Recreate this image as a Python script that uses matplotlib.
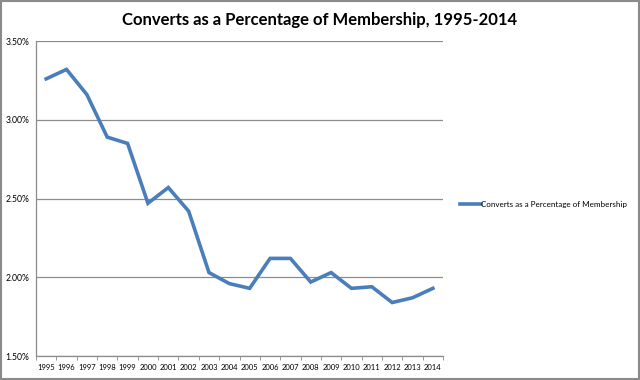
import matplotlib
matplotlib.use("Agg")
import matplotlib.pyplot as plt
from matplotlib.patches import Rectangle
from matplotlib.ticker import FuncFormatter, FixedLocator

years = [str(y) for y in range(1995, 2015)]
values = [3.26, 3.32, 3.16, 2.89, 2.85, 2.47, 2.57, 2.42, 2.03, 1.96,
          1.93, 2.12, 2.12, 1.97, 2.03, 1.93, 1.94, 1.84, 1.87, 1.93]
series_name = "Converts as a Percentage of Membership"
title = "Converts as a Percentage of Membership, 1995-2014"
yticks = [1.5, 2.0, 2.5, 3.0, 3.5]

plt.rcParams['font.family'] = ['Lato', 'DejaVu Sans']

fig = plt.figure(figsize=(6.4, 3.8), dpi=100)
ax = fig.add_axes([0.05625, 0.063, 0.636, 0.829])

x = list(range(len(years)))
ax.plot(x, values, color="#4a7ebb", linewidth=2.6, label=series_name,
        solid_joinstyle="miter")

ax.set_xlim(-0.5, len(years) - 0.5)
ax.set_ylim(1.5, 3.5)
ax.set_yticks(yticks)
ax.yaxis.set_major_formatter(FuncFormatter(lambda v, p: f"{v:.2f}%"))
ax.set_xticks(x)
ax.set_xticklabels(years)
ax.xaxis.set_minor_locator(FixedLocator([i - 0.5 for i in range(len(years) + 1)]))
ax.tick_params(axis='x', which='major', length=0, labelsize=5.5, pad=6)
ax.tick_params(axis='x', which='minor', length=3, color="#888888", direction='out')
ax.tick_params(axis='y', length=0, labelsize=6.2, pad=5)

ax.grid(axis='y', color="#8c8c8c", linewidth=0.9)
ax.set_axisbelow(True)
for s in ['top', 'right']:
    ax.spines[s].set_visible(False)
for s in ['left', 'bottom']:
    ax.spines[s].set_color("#8c8c8c")
    ax.spines[s].set_linewidth(0.9)

fig.text(0.5, 0.947, title, ha='center', va='center', fontsize=12, fontweight='bold')

handles, labels = ax.get_legend_handles_labels()
leg = fig.legend(handles, labels, loc='center left', bbox_to_anchor=(0.718, 0.463),
                 frameon=False, fontsize=5.8, handlelength=2.7, handletextpad=0.0,
                 borderaxespad=0, borderpad=0)

fig.patches.append(Rectangle((0.001, 0.002), 0.997, 0.995, transform=fig.transFigure,
                             fill=False, edgecolor="#8a8a8a", linewidth=1.5))

fig.savefig("out.png", dpi=100)
